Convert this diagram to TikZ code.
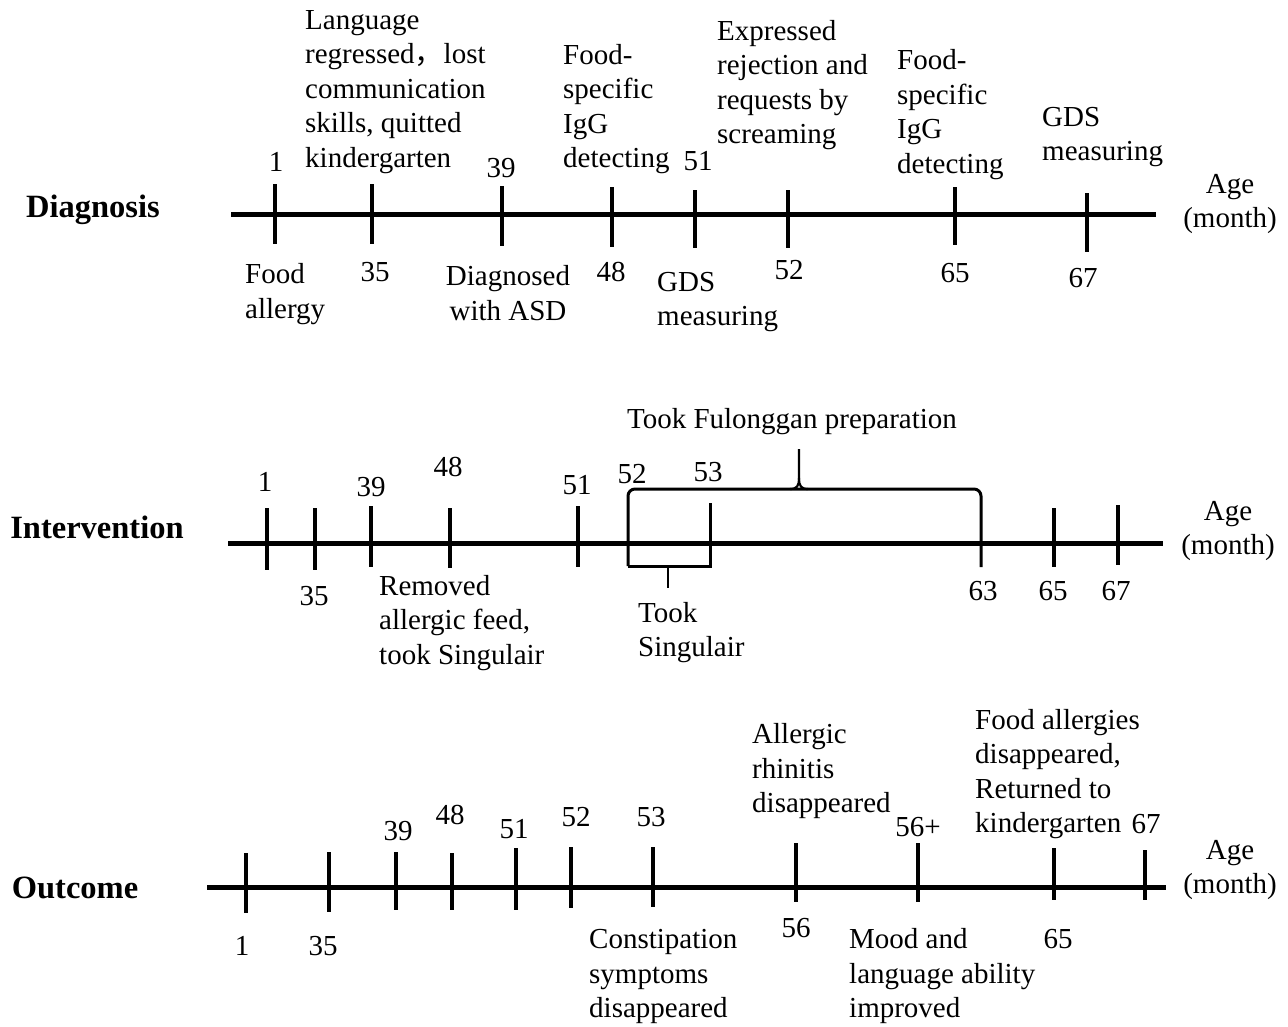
\documentclass[tikz,border=0pt]{standalone}
\usepackage{fontspec}
\setmainfont{Liberation Serif}
\newfontfamily\cjkfont{Noto Sans CJK SC}
\begin{document}
\begin{tikzpicture}[x=1pt,y=-1pt,
  axisline/.style={line width=5pt},
  tickline/.style={line width=3.5pt},
  bracketline/.style={line width=3pt},
  lbl/.style={inner sep=0pt, font=\fontsize{29}{34.5}\selectfont},
  txt/.style={lbl, align=left, anchor=west},
  ctxt/.style={lbl, align=center},
  head/.style={inner sep=0pt, font=\fontsize{32.5}{38}\selectfont\bfseries}]
\useasboundingbox (0,0) rectangle (1288,1026);

% ================= Diagnosis =================
\node[head] (hdiag) at (93,210) {Diagnosis};
\coordinate (da) at (231,214);
\coordinate (db) at (1156,214);
\draw[axisline] (da) -- (db);
\foreach \n/\x/\t/\b in {1/275/184/244, 35/372/184/244, 39/502/186/246, 48/612/187/247,
                        51/695/190/248, 52/788/190/248, 65/955/187/245, 67/1087/193/252}{
  \coordinate (dt\n a) at (\x,\t);
  \coordinate (dt\n b) at (\x,\b);
  \draw[tickline] (dt\n a) -- (dt\n b);
}
\node[lbl] (dl1) at (276,162) {1};
\node[txt] (dlang) at (305,92) {Language\\regressed{\cjkfont ，}lost\\communication\\skills, quitted\\kindergarten};
\node[lbl] (dl39) at (501,168) {39};
\node[txt] (dfood1) at (563,109) {Food-\\specific\\IgG\\detecting};
\node[lbl] (dl51) at (698,161) {51};
\node[txt] (dexp) at (717,85) {Expressed\\rejection and\\requests by\\screaming};
\node[txt] (dfood2) at (897,114.5) {Food-\\specific\\IgG\\detecting};
\node[txt] (dgdsa) at (1042,137) {GDS\\measuring};
\node[txt] (dfa) at (245,294) {Food\\allergy};
\node[lbl] (dl35) at (375,272) {35};
\node[ctxt] (ddx) at (508,293) {Diagnosed\\with ASD};
\node[lbl] (dl48) at (611,272) {48};
\node[txt] (dgdsb) at (657,302) {GDS\\measuring};
\node[lbl] (dl52) at (789,270) {52};
\node[lbl] (dl65) at (955,273) {65};
\node[lbl] (dl67) at (1083,278) {67};
\node[ctxt] (dage) at (1230,204) {Age\\(month)};

% ================= Intervention =================
\node[head] (hint) at (97,527) {Intervention};
\coordinate (ia) at (228,543);
\coordinate (ib) at (1163,543);
\draw[axisline] (ia) -- (ib);
\foreach \n/\x/\t/\b in {1/267/508/570, 35/315/508/570, 39/371/506/567, 48/450/508/568,
                        51/578/506/567, 65/1054/508/567, 67/1118/505/565}{
  \coordinate (it\n a) at (\x,\t);
  \coordinate (it\n b) at (\x,\b);
  \draw[tickline] (it\n a) -- (it\n b);
}
% brackets
\coordinate (bl) at (628,566);
\coordinate (blt) at (628,489);
\coordinate (brt) at (981,489);
\coordinate (br) at (981,567);
\coordinate (s53t) at (710,503);
\coordinate (s53b) at (710,566);
\draw[bracketline, rounded corners=7pt] (bl) -- (blt) -- (brt) -- (br);
\draw[bracketline] (bl) -- (s53b) -- (s53t);
\coordinate (pk) at (799,449);
\draw[line width=2.2pt] (790,489) .. controls (797,489) and (799,486) .. (799,478) -- (pk);
\draw[line width=2.2pt] (808,489) .. controls (801,489) and (799,486) .. (799,478);
\coordinate (sk) at (668,588);
\draw[line width=2.2pt] (668,566) -- (sk);

\node[lbl] (il1) at (265,482) {1};
\node[lbl] (il39) at (371,487) {39};
\node[lbl] (il48) at (448,467) {48};
\node[lbl] (il51) at (577,485) {51};
\node[lbl] (il52) at (632,474) {52};
\node[lbl] (il53) at (708,472) {53};
\node[lbl] (iful) at (792,422) {Took Fulonggan preparation};
\node[lbl] (il35) at (314,596) {35};
\node[txt] (irem) at (379,623) {Removed\\allergic feed,\\took Singulair};
\node[txt] (ising) at (638,632.5) {Took\\Singulair};
\node[lbl] (il63) at (983,591) {63};
\node[lbl] (il65) at (1053,591) {65};
\node[lbl] (il67) at (1116,591) {67};
\node[ctxt] (iage) at (1228,531) {Age\\(month)};

% ================= Outcome =================
\node[head] (hout) at (75,888) {Outcome};
\coordinate (oa) at (207,887);
\coordinate (ob) at (1166,887);
\draw[axisline] (oa) -- (ob);
\foreach \n/\x/\t/\b in {1/246/853/913, 35/329/852/912, 39/396/852/910, 48/452/853/910,
                        51/516/848/910, 52/571/847/908, 53/653/847/907, 56/796/843/902,
                        56p/918/843/902, 65/1054/848/900, 67/1145/850/900}{
  \coordinate (ot\n a) at (\x,\t);
  \coordinate (ot\n b) at (\x,\b);
  \draw[tickline] (ot\n a) -- (ot\n b);
}
\node[lbl] (ol39) at (398,831) {39};
\node[lbl] (ol48) at (450,815) {48};
\node[lbl] (ol51) at (514,829) {51};
\node[lbl] (ol52) at (576,817) {52};
\node[lbl] (ol53) at (651,817) {53};
\node[lbl] (ol56p) at (918,827) {56+};
\node[lbl] (ol67) at (1146,824) {67};
\node[txt] (oall) at (752,771.5) {Allergic\\rhinitis\\disappeared};
\node[txt] (ofood) at (975,774) {Food allergies\\disappeared,\\Returned to\\kindergarten};
\node[lbl] (ol1) at (242,946) {1};
\node[lbl] (ol35) at (323,946) {35};
\node[lbl] (ol56) at (796,928) {56};
\node[lbl] (ol65) at (1058,939) {65};
\node[txt] (ocon) at (589,976.5) {Constipation\\symptoms\\disappeared};
\node[txt] (omood) at (849,976.5) {Mood and\\language ability\\improved};
\node[ctxt] (oage) at (1230,870) {Age\\(month)};
\end{tikzpicture}
\end{document}
